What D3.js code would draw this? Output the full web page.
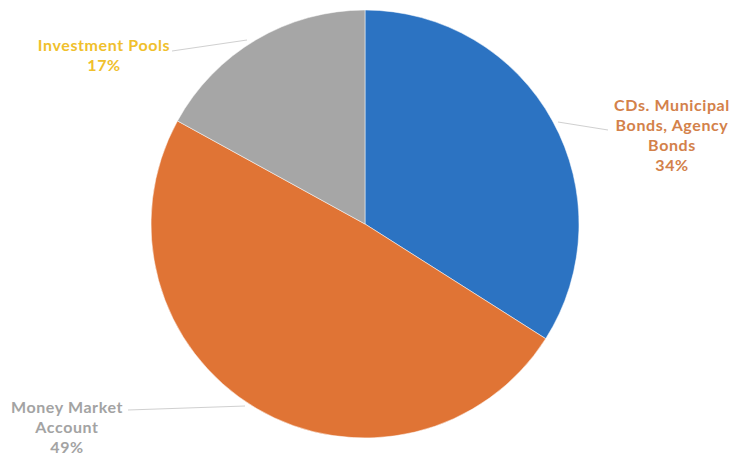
<!DOCTYPE html>
<html><head><meta charset="utf-8">
<script src="https://cdn.jsdelivr.net/npm/d3@7"></script>
<style>html,body{margin:0;padding:0;background:#fff;}</style>
</head><body>
<svg id="chart" width="736" height="458"></svg>
<script>
const categories = ["CDs, Municipal Bonds, Agency Bonds", "Money Market Account", "Investment Pools"];
const values = [34, 49, 17];
const labelLines = [["CDs. Municipal", "Bonds, Agency", "Bonds", "34%"], ["Money Market", "Account", "49%"], ["Investment Pools", "17%"]];
const sliceColors = ["#2c73c2", "#e07435", "#a6a6a6"];
const labelColors = ["#d3814a", "#a3a3a3", "#f0c02c"];

const svg = d3.select("#chart");
const cx = 365, cy = 224, r = 214;
const pie = d3.pie().sort(null).value(d => d)(values);
const arc = d3.arc().innerRadius(0).outerRadius(r);
const g = svg.append("g").attr("transform", `translate(${cx},${cy})`);
g.selectAll("path").data(pie).join("path")
  .attr("d", arc).attr("fill", (d,i) => sliceColors[i])
  .attr("stroke", "#ffffff").attr("stroke-opacity", 0.5).attr("stroke-width", 1);

const layout = [
  {x: 672, y: 111, line: [[558,122],[608,130]]},
  {x: 67, y: 413, line: [[128,410],[245,406]]},
  {x: 104, y: 51, line: [[172,51],[247,40]]}
];
layout.forEach((L, i) => {
  svg.append("line").attr("x1", L.line[0][0]).attr("y1", L.line[0][1])
    .attr("x2", L.line[1][0]).attr("y2", L.line[1][1])
    .attr("stroke", "#d0d0d0").attr("stroke-width", 1);
  const t = svg.append("text").attr("text-anchor", "middle")
    .attr("font-family", "Lato, sans-serif").attr("font-weight", "bold")
    .attr("font-size", 16).attr("letter-spacing", 0.6).attr("fill", labelColors[i]);
  labelLines[i].forEach((s, k) => {
    t.append("tspan").attr("x", L.x).attr("y", L.y + k * 20).text(s);
  });
});
</script>
</body></html>
